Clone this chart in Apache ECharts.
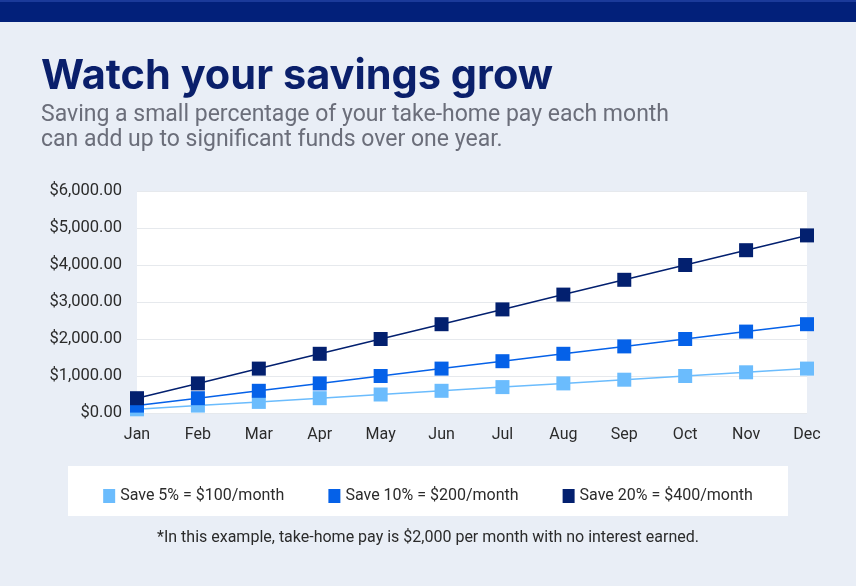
<!DOCTYPE html>
<html>
<head>
<meta charset="utf-8">
<script src="https://cdn.jsdelivr.net/npm/echarts@6/dist/echarts.min.js"></script>
<style>html,body{margin:0;padding:0;background:#e9eef6;}#c{width:856px;height:586px;}</style>
</head>
<body>
<div id="c"></div>
<script>
const months = ['Jan','Feb','Mar','Apr','May','Jun','Jul','Aug','Sep','Oct','Nov','Dec'];
const save5 = [100,200,300,400,500,600,700,800,900,1000,1100,1200];
const save10 = [200,400,600,800,1000,1200,1400,1600,1800,2000,2200,2400];
const save20 = [400,800,1200,1600,2000,2400,2800,3200,3600,4000,4400,4800];
const seriesNames = ['Save 5% = $100/month','Save 10% = $200/month','Save 20% = $400/month'];
const colors = ['#6bbcfd','#0561e8','#03206f'];

const chart = echarts.init(document.getElementById('c'));
const font = 'Roboto, "Open Sans", sans-serif';
function mk(name, data, color){
  return {name, type:'line', data, symbol:'rect', symbolSize:14, showSymbol:true,
    lineStyle:{color, width:1.5}, itemStyle:{color}, emphasis:{disabled:true}};
}
chart.setOption({
  backgroundColor:'#e9eef6',
  animation:false,
  textStyle:{fontFamily:font},
  graphic:[
    {type:'rect', shape:{x:0,y:0,width:856,height:22}, style:{fill:'#02207a'}},
    {type:'rect', shape:{x:0,y:0,width:856,height:2}, style:{fill:'#1b3a9a'}},
    {type:'rect', shape:{x:68,y:466,width:720,height:50}, style:{fill:'#ffffff'}, z:-1},
    {type:'text', left:'center', top:530, style:{text:'*In this example, take-home pay is $2,000 per month with no interest earned.', font:'16px '+font, fill:'#2b2b2b'}}
  ],
  title:{
    text:'Watch your savings grow',
    subtext:'Saving a small percentage of your take-home pay each month\ncan add up to significant funds over one year.',
    left:36, top:51,
    textStyle:{fontFamily:'Inter, sans-serif', fontWeight:'bold', fontSize:41.5, color:'#0a1f6b'},
    subtextStyle:{fontFamily:font, fontSize:23, color:'#6b6e7a', lineHeight:25},
    itemGap:5
  },
  legend:{
    data:seriesNames, left:'center', top:483, icon:'rect', itemWidth:12, itemHeight:14, itemGap:44,
    textStyle:{fontSize:16, color:'#2b2b2b', fontFamily:font}
  },
  grid:{left:137, right:49, top:191, bottom:173, show:true, backgroundColor:'#ffffff', borderWidth:0},
  xAxis:{type:'category', data:months, boundaryGap:false,
    axisLine:{show:false}, axisTick:{show:false},
    axisLabel:{fontSize:16, color:'#2b2b2b', margin:14}},
  yAxis:{type:'value', min:0, max:6000, interval:1000,
    axisLine:{show:false}, axisTick:{show:false},
    splitLine:{lineStyle:{color:'#e6e9ed', width:1}},
    axisLabel:{fontSize:16.5, color:'#2b2b2b', margin:15,
      formatter:v=>'$'+v.toLocaleString('en-US',{minimumFractionDigits:2,maximumFractionDigits:2})}},
  series:[mk(seriesNames[0],save5,colors[0]), mk(seriesNames[1],save10,colors[1]), mk(seriesNames[2],save20,colors[2])]
});
</script>
</body>
</html>
